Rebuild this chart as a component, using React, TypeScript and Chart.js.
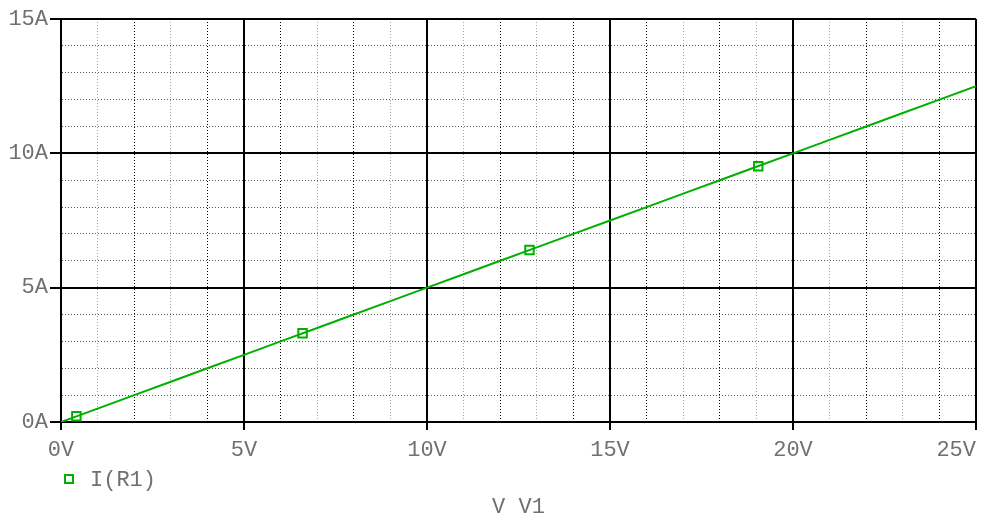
import React, { useEffect, useRef } from "react";
import { Chart, registerables } from "chart.js";

Chart.register(...registerables);

// Sweep of V1 (volts) and current through R1 (amps)
const voltage = [0, 1, 2, 3, 4, 5, 6, 7, 8, 9, 10, 11, 12, 13, 14, 15, 16, 17, 18, 19, 20, 21, 22, 23, 24, 25];
const current = [0, 0.5, 1.0, 1.5, 2.0, 2.5, 3.0, 3.5, 4.0, 4.5, 5.0, 5.5, 6.0, 6.5, 7.0, 7.5, 8.0, 8.5, 9.0, 9.5, 10.0, 10.5, 11.0, 11.5, 12.0, 12.5];
// Marker symbols along the trace
const markerV = [0.42, 6.6, 12.8, 19.05];
const markerI = [0.21, 3.3, 6.4, 9.52];

const seriesLabel = "I(R1)";
const xTitle = "V V1";
const xMin = 0, xMax = 25, xMajor = 5;
const yMin = 0, yMax = 15, yMajor = 5;
const xUnit = "V";
const yUnit = "A";

const GREEN = "#00b000";
const TEXT = "#707070";
const FONT = "Liberation Mono";

const legendPlugin = {
  id: "psLegend",
  afterDraw(chart: any) {
    const ctx = chart.ctx;
    const ds = chart.data.datasets[0];
    ctx.save();
    ctx.strokeStyle = GREEN;
    ctx.lineWidth = 2;
    ctx.strokeRect(65, 475, 8, 8);
    ctx.fillStyle = TEXT;
    ctx.font = `22px "${FONT}"`;
    ctx.textBaseline = "middle";
    ctx.textAlign = "left";
    ctx.fillText(ds.label, 90, 480);
    ctx.restore();
  },
};

export default function App() {
  const ref = useRef<HTMLCanvasElement | null>(null);
  useEffect(() => {
    document.body.style.margin = "0";
    const canvas = ref.current!;
    const chart = new Chart(canvas, {
      type: "line",
      data: {
        datasets: [
          {
            label: seriesLabel,
            data: voltage.map((v, i) => ({ x: v, y: current[i] })),
            borderColor: GREEN,
            borderWidth: 2,
            pointRadius: 0,
            tension: 0,
          },
          {
            label: seriesLabel + " markers",
            data: markerV.map((v, i) => ({ x: v, y: markerI[i] })),
            showLine: false,
            pointStyle: "rect",
            pointRadius: 6,
            pointBorderWidth: 2,
            pointBorderColor: GREEN,
            pointBackgroundColor: "rgba(0,0,0,0)",
          },
        ],
      },
      options: {
        animation: false,
        responsive: false,
        devicePixelRatio: 1,
        layout: { padding: { top: 19, right: 6, left: 0, bottom: 0 } },
        plugins: { legend: { display: false }, tooltip: { enabled: false } },
        scales: {
          x: {
            type: "linear",
            min: xMin,
            max: xMax,
            afterFit: (s: any) => { s.height = 96; s.paddingLeft = 0; s.paddingRight = 0; },
            ticks: {
              stepSize: 1,
              autoSkip: false,
              maxRotation: 0,
              padding: 7,
              color: TEXT,
              font: { family: FONT, size: 22, lineHeight: 1.2 },
              callback: (v: any) => {
                if (v % xMajor !== 0) return "";
                // the last label sits flush left of the right edge
                return v === xMax ? v + xUnit + "   " : v + xUnit;
              },
            },
            grid: {
              color: (c: any) => {
                const v = c.tick ? c.tick.value : 0;
                if (v % xMajor === 0) return "#000";
                return v % 2 === 1 ? "#a8a8a8" : "#000";
              },
              lineWidth: (c: any) => (c.tick && c.tick.value % xMajor === 0 ? 2 : 1),
              tickColor: (c: any) => (c.tick && c.tick.value % xMajor === 0 ? "#000" : "rgba(0,0,0,0)"),
              tickWidth: 2,
              tickLength: 8,
            },
            border: {
              display: true,
              color: "#000",
              width: 2,
              dash: (c: any) => (c.tick && c.tick.value % xMajor !== 0 ? [1, 2] : []),
            },
            title: {
              display: true,
              text: xTitle,
              color: TEXT,
              font: { family: FONT, size: 22, lineHeight: 1 },
              padding: { top: 0, bottom: 0 },
            },
          },
          y: {
            type: "linear",
            min: yMin,
            max: yMax,
            afterFit: (s: any) => { s.width = 61; s.paddingTop = 0; s.paddingBottom = 0; },
            ticks: {
              stepSize: 1,
              autoSkip: false,
              padding: 2,
              color: TEXT,
              font: { family: FONT, size: 22 },
              callback: (v: any) => (v % yMajor === 0 ? v + yUnit : ""),
            },
            grid: {
              color: (c: any) => {
                const v = c.tick ? c.tick.value : 0;
                return v % yMajor === 0 ? "#000" : "#555";
              },
              lineWidth: (c: any) => (c.tick && c.tick.value % yMajor === 0 ? 2 : 1),
              tickColor: (c: any) => (c.tick && c.tick.value % yMajor === 0 ? "#000" : "rgba(0,0,0,0)"),
              tickWidth: 2,
              tickLength: 11,
            },
            border: {
              display: true,
              color: "#000",
              width: 2,
              dash: (c: any) => (c.tick && c.tick.value % yMajor !== 0 ? [1, 2] : []),
            },
          },
        },
      },
      plugins: [legendPlugin],
    });
    return () => chart.destroy();
  }, []);
  return (
    <div style={{ width: 984, height: 518, background: "#fff" }}>
      <canvas ref={ref} width={984} height={518} style={{ display: "block" }} />
    </div>
  );
}
